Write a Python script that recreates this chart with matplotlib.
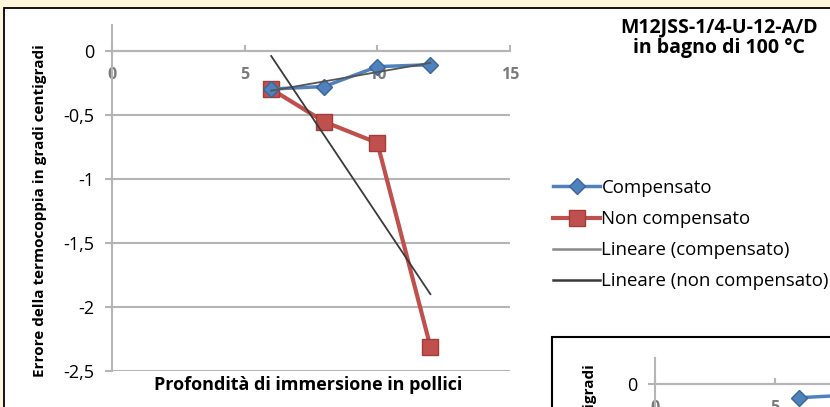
import numpy as np
import matplotlib
matplotlib.use("Agg")
import matplotlib.pyplot as plt
from matplotlib.patches import Rectangle
from matplotlib.lines import Line2D

plt.rcParams['font.family'] = ['Open Sans', 'DejaVu Sans']

# dati
profondita = [6, 8, 10, 12]
compensato = [-0.30, -0.28, -0.125, -0.11]
non_compensato = [-0.30, -0.555, -0.72, -2.31]
yticks = [0, -0.5, -1, -1.5, -2, -2.5]
ytick_labels = ['0', '-0,5', '-1', '-1,5', '-2', '-2,5']
xticks = [0, 5, 10, 15]
titolo1 = "M12JSS-1/4-U-12-A/D"
titolo2 = "in bagno di 100 °C"
ylab = "Errore della termocoppia in gradi centigradi"
xlab = "Profondità di immersione in pollici"
nomi = ["Compensato", "Non compensato", "Lineare (compensato)", "Lineare (non compensato)"]

# secondo grafico (in basso a destra, tagliato)
profondita2 = [6, 8]
compensato2 = [-0.11, -0.09]

W, H = 830, 407
BLU, BLU_E = '#4f81bd', '#3a659c'
ROSSO, ROSSO_E = '#c0504d', '#a33c39'
GRIGIO = '#b5b5b5'

fig = plt.figure(figsize=(W / 100, H / 100), dpi=100, facecolor='#fdf6da')


def fx(px):
    return px / W


def fy(py):
    return 1 - py / H


def assi(a):
    a.set_facecolor('none')
    # set_position resetta i tick, quindi va fatto prima delle etichette
    a.spines['bottom'].set_position(('data', 0))
    for s in ['top', 'right']:
        a.spines[s].set_visible(False)
    for s in ['bottom', 'left']:
        a.spines[s].set_color(GRIGIO)
        a.spines[s].set_linewidth(1.5)
    a.set_xlim(0, 15)
    a.set_ylim(-2.5, 0.2)
    a.set_yticks(yticks)
    a.set_yticklabels(ytick_labels, fontsize=13)
    a.set_xticks(xticks)
    a.set_xticklabels([str(t) for t in xticks], fontsize=11.5, color='#7a7a7a', fontweight='bold')
    a.yaxis.grid(True, color=GRIGIO, lw=1.5)
    a.set_axisbelow(True)
    a.tick_params(axis='y', length=5, color=GRIGIO, width=1.5, pad=8)
    a.tick_params(axis='x', direction='in', length=4, color=GRIGIO, width=1.5, pad=12)


# riquadro principale
fig.patches.append(Rectangle((fx(4), fy(420)), fx(840), fy(8) - fy(420), transform=fig.transFigure,
                             facecolor='white', edgecolor='black', lw=1.3, zorder=-5))

ax = fig.add_axes([fx(112), fy(371), fx(398), fy(25) - fy(371)])
assi(ax)

ax.plot(profondita, non_compensato, color=ROSSO, lw=3, marker='s', ms=12,
        markerfacecolor=ROSSO, markeredgecolor=ROSSO_E, zorder=3)
ax.plot(profondita, compensato, color=BLU, lw=2.5, marker='D', ms=8,
        markerfacecolor=BLU, markeredgecolor=BLU_E, zorder=4)

x = np.array(profondita)
p1 = np.polyfit(profondita, compensato, 1)
p2 = np.polyfit(profondita, non_compensato, 1)
ax.plot(x[[0, -1]], np.polyval(p1, x[[0, -1]]), color='#555555', lw=1.3, zorder=5)
ax.plot(x[[0, -1]], np.polyval(p2, x[[0, -1]]), color='#3a3a3a', lw=1.3, zorder=5)

fig.text(fx(40), fy(211), ylab, rotation=90, ha='center', va='center', fontsize=11, fontweight='bold')
fig.text(fx(308), fy(385), xlab, ha='center', va='center', fontsize=13, fontweight='bold')
fig.text(fx(719), fy(27), titolo1, ha='center', va='center', fontsize=14, fontweight='bold')
fig.text(fx(719), fy(48), titolo2, ha='center', va='center', fontsize=14, fontweight='bold')

maniglie = [
    Line2D([], [], color=BLU, lw=2.5, marker='D', ms=8, markerfacecolor=BLU, markeredgecolor=BLU_E),
    Line2D([], [], color=ROSSO, lw=3, marker='s', ms=11, markerfacecolor=ROSSO, markeredgecolor=ROSSO_E),
    Line2D([], [], color='#888888', lw=1.8),
    Line2D([], [], color='#3a3a3a', lw=1.8),
]
ax.legend(maniglie, nomi, loc='upper left', bbox_to_anchor=(fx(553), fy(179)), bbox_transform=fig.transFigure,
          frameon=False, fontsize=13.4, handlelength=2.55, handletextpad=0.05, labelspacing=0.7,
          borderpad=0, borderaxespad=0)

# secondo grafico, parzialmente visibile
fig.patches.append(Rectangle((fx(552), fy(500)), fx(400), fy(337) - fy(500), transform=fig.transFigure,
                             facecolor='white', edgecolor='black', lw=1.5, zorder=0.5))
ax2 = fig.add_axes([fx(655), fy(704), fx(360), fy(358) - fy(704)], zorder=1)
assi(ax2)
ax2.plot(profondita2, compensato2, color=BLU, lw=2.5, marker='D', ms=8,
         markerfacecolor=BLU, markeredgecolor=BLU_E)
fig.text(fx(590), fy(531), ylab, rotation=90, ha='center', va='center', fontsize=11, fontweight='bold')

fig.savefig('out.png', dpi=100, facecolor=fig.get_facecolor())
